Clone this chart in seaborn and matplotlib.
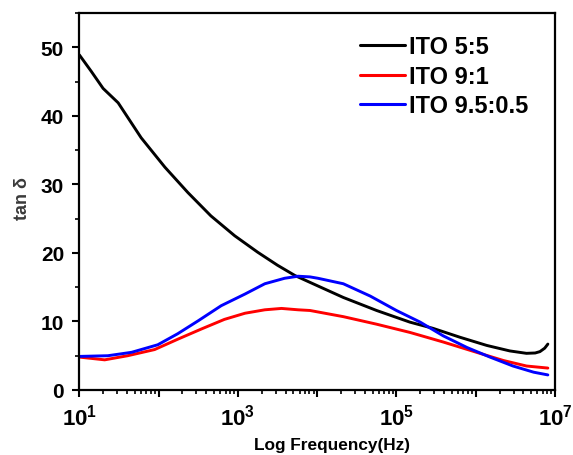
import numpy as np
import pandas as pd
import matplotlib
matplotlib.use("Agg")
import matplotlib.pyplot as plt
import matplotlib.ticker as mticker
import seaborn as sns

# Frequency exponents (log10 Hz) and loss tangent for each ITO composition
exp_55 = [1.0, 1.15, 1.30, 1.49, 1.78, 2.08, 2.37, 2.66, 2.96, 3.25, 3.50,
          3.72, 3.91, 4.33, 4.75, 5.17, 5.46, 5.80, 6.14, 6.43, 6.64, 6.75,
          6.81, 6.87, 6.91]
tan_55 = [48.9, 46.5, 44.0, 41.9, 36.8, 32.5, 28.8, 25.4, 22.5, 20.1, 18.2,
          16.7, 15.7, 13.5, 11.6, 9.9, 9.0, 7.7, 6.5, 5.7, 5.35, 5.4,
          5.6, 6.1, 6.7]

exp_91 = [1.0, 1.32, 1.61, 1.95, 2.24, 2.54, 2.83, 3.09, 3.34, 3.55, 3.76,
          3.91, 4.33, 4.75, 5.17, 5.59, 6.01, 6.35, 6.64, 6.91]
tan_91 = [4.8, 4.4, 5.0, 5.9, 7.4, 8.9, 10.3, 11.2, 11.7, 11.9, 11.7,
          11.6, 10.7, 9.6, 8.4, 7.0, 5.5, 4.3, 3.5, 3.2]

exp_955 = [1.0, 1.36, 1.66, 1.99, 2.24, 2.50, 2.79, 3.09, 3.34, 3.59, 3.76,
           3.91, 4.01, 4.33, 4.67, 5.00, 5.30, 5.59, 5.89, 6.18, 6.47, 6.73, 6.91]
tan_955 = [4.9, 5.0, 5.5, 6.6, 8.2, 10.1, 12.3, 14.0, 15.5, 16.3, 16.6,
           16.5, 16.3, 15.5, 13.7, 11.6, 9.9, 7.9, 6.2, 4.8, 3.5, 2.6, 2.2]

labels = ["ITO 5:5", "ITO 9:1", "ITO 9.5:0.5"]
colors = ["#000000", "#ff0000", "#0000ff"]

frames = []
for lab, ex, tv in zip(labels, [exp_55, exp_91, exp_955], [tan_55, tan_91, tan_955]):
    frames.append(pd.DataFrame({"freq": 10.0 ** np.array(ex), "tan": tv, "sample": lab}))
df = pd.concat(frames, ignore_index=True)

sns.set_style("white")
plt.rcParams["font.family"] = ["Liberation Sans", "DejaVu Sans"]
plt.rcParams["font.weight"] = "bold"
plt.rcParams["text.color"] = "black"
plt.rcParams["axes.labelcolor"] = "black"
plt.rcParams["xtick.color"] = "black"
plt.rcParams["ytick.color"] = "black"
plt.rcParams["mathtext.fontset"] = "custom"
plt.rcParams["mathtext.rm"] = "Liberation Sans:bold"
plt.rcParams["mathtext.bf"] = "Liberation Sans:bold"

fig = plt.figure(figsize=(5.73, 4.56), dpi=100)
ax = fig.add_axes([79.3 / 573, 1 - 391 / 456, (555 - 79.3) / 573, (391 - 14) / 456])

sns.lineplot(data=df, x="freq", y="tan", hue="sample", hue_order=labels,
             palette=colors, linewidth=2.1, ax=ax, sort=True, estimator=None)
for ln in ax.get_lines():
    ln.set_solid_joinstyle("round")
    ln.set_solid_capstyle("round")

ax.set_xscale("log")
ax.set_xlim(10, 1e7)
ax.set_ylim(0, 55)

ax.xaxis.set_major_locator(mticker.LogLocator(base=10, numticks=10))
ax.xaxis.set_minor_locator(mticker.LogLocator(base=10, subs=np.arange(2, 10), numticks=20))
ax.xaxis.set_minor_formatter(mticker.NullFormatter())

def dec_fmt(v, pos):
    e = int(round(np.log10(v)))
    return r"$\mathbf{10^{%d}}$" % e if e % 2 == 1 else ""

ax.xaxis.set_major_formatter(mticker.FuncFormatter(dec_fmt))
ax.yaxis.set_major_locator(mticker.MultipleLocator(10))
ax.yaxis.set_minor_locator(mticker.MultipleLocator(5))

ax.tick_params(axis="both", which="major", direction="out", length=5, width=1.5,
               labelsize=15, colors="black", top=False, right=False, bottom=True, left=True)
ax.tick_params(axis="y", which="major", pad=6)
ax.tick_params(axis="x", which="major", pad=5, labelsize=16)
ax.tick_params(axis="both", which="minor", direction="out", length=3, width=1.2,
               colors="black", top=False, right=False, bottom=True, left=True)
for lbl in ax.get_yticklabels():
    lbl.set_fontweight("bold")

for sp in ax.spines.values():
    sp.set_linewidth(1.6)
    sp.set_color("black")

ax.set_xlabel("Log Frequency(Hz)", fontsize=12.4, fontweight="bold", color="black")
ax.xaxis.set_label_coords(0.531, -0.125)
ax.set_ylabel("tan δ", fontsize=13, color="#3a3a3a", fontweight="bold")
ax.yaxis.set_label_coords(-0.102, 0.51)

leg = ax.legend(loc="upper right", frameon=False, fontsize=17, handlelength=1.9,
                handletextpad=0.15, labelspacing=0.28, borderaxespad=0.3,
                bbox_to_anchor=(0.978, 0.985))
for t in leg.get_texts():
    t.set_fontweight("bold")
    t.set_color("black")
for h in leg.get_lines():
    h.set_linewidth(2.2)

fig.savefig("out.png", dpi=100)
